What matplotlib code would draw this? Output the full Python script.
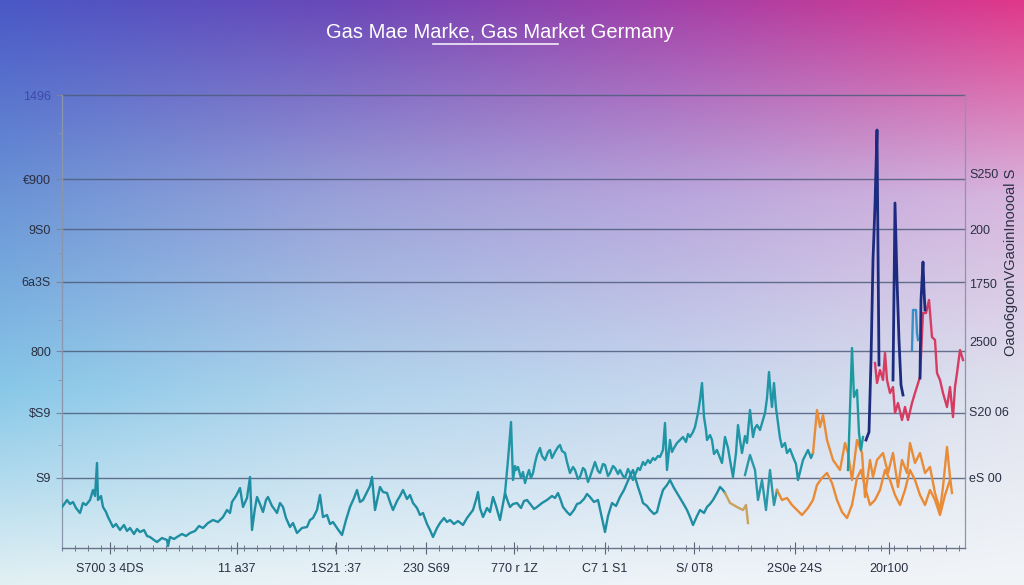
import numpy as np
import matplotlib
matplotlib.use("Agg")
import matplotlib.pyplot as plt
from matplotlib import font_manager

# ---- data (x = trading day index, y = price level) ----
teal_low_x = [0, 3, 5, 8, 11, 14, 18, 21, 24, 28, 31, 33, 35, 36, 39, 41, 44, 46, 49, 51, 54, 58,
              62, 65, 68, 72, 75, 78, 82, 85, 88, 92, 95, 100, 105, 106, 108, 112, 115, 120, 124,
              128, 133, 137, 141, 146, 151, 156, 161, 165, 168, 170, 174, 178, 181, 185, 188, 190,
              193, 195, 198, 201, 204, 206, 210, 213, 215, 218, 221, 224, 228, 231, 235, 240, 245,
              248, 251, 255, 258, 261, 265, 268, 271, 275, 280, 284, 288, 292, 295, 298, 301, 305,
              308, 310, 313, 316, 318, 321, 325, 328, 331, 335, 338, 341, 345, 348, 351, 355, 358,
              361, 365, 368, 371, 375, 378, 382, 385, 388, 392, 396, 401, 405, 408, 411, 414, 416,
              418, 421, 425, 428, 431, 434, 438, 441, 443, 446, 448, 451, 455, 459, 462, 465, 469,
              472, 475, 480, 485, 490, 493, 496, 499, 501, 505, 508, 512, 515, 518, 522, 525, 528,
              532, 536, 540, 543, 546, 550, 554, 558, 562, 565, 568, 571, 574, 576, 579, 581, 585,
              588, 592, 595, 598, 601, 605, 608, 612, 615, 618, 621, 625, 628, 631, 635, 638, 642,
              645, 648, 651, 655, 658, 661, 663]
teal_low_y = [41, 45, 48, 44, 46, 40, 35, 45, 43, 48, 58, 52, 85, 48, 52, 41, 36, 31, 25, 21, 24, 18,
              23, 17, 20, 14, 19, 16, 18, 12, 11, 8, 6, 10, 8, 2, 11, 9, 11, 14, 12,
              15, 17, 22, 20, 25, 28, 26, 31, 38, 35, 46, 52, 60, 41, 50, 71, 18,
              40, 51, 44, 36, 48, 51, 42, 38, 35, 45, 41, 30, 21, 25, 15, 20, 21,
              28, 30, 38, 53, 31, 33, 24, 26, 20, 13, 28, 41, 50, 58, 46, 48, 56,
              62, 71, 38, 52, 61, 56, 55, 46, 38, 47, 52, 58, 49, 53, 45, 40, 33,
              35, 24, 18, 11, 20, 25, 30, 26, 28, 24, 27, 23, 30, 34, 38, 48, 56,
              40, 31, 40, 36, 51, 42, 28, 44, 55, 46, 41, 44, 45, 40, 47, 48, 43,
              39, 41, 45, 48, 52, 50, 55, 47, 41, 36, 33, 38, 44, 45, 49, 54, 51,
              46, 48, 30, 16, 32, 45, 42, 51, 58, 65, 72, 78, 68, 61, 52, 45, 42,
              38, 34, 36, 48, 58, 63, 68, 60, 55, 50, 45, 38, 31, 23, 32, 38, 35,
              41, 44, 48, 55, 61, 58, 55]

tan_low_x = [663, 668, 675, 681, 684, 686]
tan_low_y = [55, 45, 41, 38, 43, 25]

teal_up_x = [443, 446, 449, 451, 453, 454, 456, 459, 461, 463, 465, 467, 469, 471, 473, 475, 478,
             480, 483, 486, 488, 490, 493, 496, 498, 500, 503, 505, 508, 511, 513, 516, 518, 521,
             523, 526, 528, 531, 533, 536, 538, 541, 543, 546, 548, 551, 553, 556, 558, 561, 563,
             566, 568, 571, 573, 576, 578, 581, 583, 586, 588, 591, 593, 596, 598, 601, 603, 605,
             608, 610, 612, 615, 618, 621, 624, 626, 628, 631, 633, 636, 638, 640, 642, 644, 645,
             648, 650, 652, 655, 658, 660, 663, 666, 668, 671, 674, 676, 678, 680, 683, 685, 688,
             691, 693, 695, 698, 701, 703, 705, 707, 709, 710, 712, 714, 716, 718, 720, 723, 725,
             728, 731, 734, 736, 739, 741, 744, 746, 749, 751]
teal_up_y = [55, 88, 126, 68, 82, 78, 81, 70, 76, 65, 72, 78, 70, 75, 85, 93, 100,
             92, 88, 96, 98, 90, 96, 101, 103, 97, 95, 86, 75, 81, 78, 69, 71, 80,
             78, 66, 71, 80, 86, 77, 75, 84, 83, 72, 75, 82, 80, 74, 78, 72, 70,
             79, 75, 68, 73, 80, 78, 86, 83, 88, 85, 90, 88, 92, 91, 98, 125, 78,
             108, 96, 100, 105, 108, 111, 106, 114, 111, 116, 121, 135, 148, 165, 131, 118, 108,
             113, 108, 94, 98, 90, 85, 111, 100, 88, 71, 95, 123, 108, 95, 112, 105, 138,
             111, 120, 123, 118, 128, 135, 150, 176, 150, 141, 165, 140, 125, 110, 101, 105, 95,
             99, 91, 84, 68, 80, 88, 94, 98, 90, 95]

orange_up_x = [751, 755, 758, 761, 765, 771, 778, 783, 786, 790, 795, 800, 803, 808, 811, 815,
               821, 826, 831, 836, 840, 845, 848, 853, 858, 863, 868, 873, 878, 881, 885, 888, 890]
orange_up_y = [95, 138, 121, 133, 108, 88, 78, 105, 95, 68, 108, 95, 51, 88, 71, 88,
               95, 75, 95, 61, 88, 75, 105, 85, 95, 75, 81, 55, 38, 61, 101, 71, 55]

teal_mid_x = [683, 688, 693, 696, 700, 704, 708, 712, 715]
teal_mid_y = [73, 93, 78, 48, 68, 38, 78, 43, 58]

orange_low_x = [715, 720, 725, 730, 735, 740, 746, 751, 755, 760, 765, 770, 775, 780, 785, 790,
                795, 799, 803, 808, 813, 818, 823, 828, 833, 838, 843, 848, 853, 858, 863, 868,
                873, 878, 883, 888]
orange_low_y = [58, 48, 50, 43, 38, 33, 40, 48, 63, 70, 75, 65, 48, 36, 30, 43,
                70, 78, 61, 43, 48, 58, 78, 68, 53, 43, 58, 78, 68, 53, 43, 58,
                48, 33, 53, 68]

teal_spike_x = [786, 790, 792, 795, 797, 799, 801]
teal_spike_y = [78, 200, 151, 158, 115, 98, 111]

# navy spikes, separated by gaps
navy_x = [804, 807, 809, 811, 813, 815, 816, 817, np.nan,
          831, 833, 835, 837, 839, 841, np.nan,
          858, 859, 861, 862, 863]
navy_y = [108, 116, 188, 288, 343, 418, 298, 183, np.nan,
          168, 345, 268, 208, 163, 153, np.nan,
          170, 248, 286, 258, 238]

blue_x = [850, 851, 854, 855, 856]
blue_y = [198, 238, 238, 215, 208]

red_x = [813, 815, 818, 821, 823, 825, 828, 831, 833, 836, 840, 843, 846, 850, 853, 858,
         861, 864, 867, 870, 873, 875, 878, 881, 885, 888, 891, 893, 895, 898, 901]
red_y = [185, 165, 178, 168, 195, 168, 155, 161, 135, 145, 128, 141, 128, 145, 155, 171,
         235, 235, 248, 211, 208, 175, 168, 155, 141, 161, 131, 161, 175, 198, 188]

ytick_pos = [453, 369, 319, 266, 197, 135, 70]
ytick_lbl = ["1496", "€900", "9S0", "6a3S", "800", "$S9", "S9"]
yminor_pos = [415, 343, 295, 228, 168, 103]
ytick_r_pos = [375, 319, 264, 207, 137, 70]
ytick_r_lbl = ["S250", "200", "1750", "2500", "S20 06", "eS 00"]
xtick_pos = [48, 175, 274, 364, 452, 543, 632, 733, 827]
xtick_lbl = ["S700 3 4DS", "11 a37", "1S21 :37", "230 S69", "770 r 1Z",
             "C7 1 S1", "S/ 0T8", "2S0e 24S", "20r100"]

title = "Gas Mae Marke, Gas Market Germany"
right_label = "Oaoo6goonVGaoinInoooal S"

installed = {f.name for f in font_manager.fontManager.ttflist}
narrow_name = next((n for n in ["Liberation Sans Narrow", "Liberation Sans"] if n in installed),
                   "DejaVu Sans")
narrow = [narrow_name, "DejaVu Sans"]


def gradient(ctrl, h, w):
    ctrl = np.array([[matplotlib.colors.to_rgb(c) for c in row] for row in ctrl])
    r, c = ctrl.shape[:2]
    xs = np.linspace(0, 1, w)
    ys = np.linspace(0, 1, h)
    tmp = np.zeros((r, w, 3))
    for i in range(r):
        for k in range(3):
            tmp[i, :, k] = np.interp(xs, np.linspace(0, 1, c), ctrl[i, :, k])
    img = np.zeros((h, w, 3))
    for j in range(w):
        for k in range(3):
            img[:, j, k] = np.interp(ys, np.linspace(0, 1, r), tmp[:, j, k])
    return img


fig = plt.figure(figsize=(10.24, 5.85), dpi=100)

bg = fig.add_axes([0, 0, 1, 1], zorder=-1)
bg.imshow(gradient([["#4a58c6", "#6a48b8", "#a440a8", "#e0388a"],
                    ["#6a94d6", "#9aa0d8", "#b9a6dc", "#d8b6de"],
                    ["#88c8e8", "#b0d4ec", "#c6d8ee", "#e0e2ee"],
                    ["#e2f0f4", "#eaf3f7", "#eef4f8", "#f2f5f8"]], 120, 200),
          aspect="auto", extent=[0, 1, 0, 1], interpolation="bicubic")
bg.axis("off")

ax = fig.add_axes([62 / 1024, 37 / 585, 903 / 1024, 453 / 585])
ax.set_facecolor("none")
ax.set_xlim(0, 903)
ax.set_ylim(0, 453)

for y in ytick_pos:
    ax.axhline(y, color="#4e5d7c", lw=1.0, alpha=0.85, zorder=1, clip_on=False)

lw = 1.7
ax.plot(teal_low_x, teal_low_y, color="#1f8ea2", lw=lw, zorder=3)
ax.plot(tan_low_x, tan_low_y, color="#c9a25c", lw=lw, zorder=3)
ax.plot(teal_up_x, teal_up_y, color="#2095a5", lw=lw, zorder=3)
ax.plot(teal_mid_x, teal_mid_y, color="#2a98a8", lw=lw, zorder=3)
ax.plot(orange_low_x, orange_low_y, color="#ea8a34", lw=lw, zorder=3)
ax.plot(orange_up_x, orange_up_y, color="#e88c38", lw=lw, zorder=3)
ax.plot(teal_spike_x, teal_spike_y, color="#1c9a9e", lw=lw, zorder=3)
ax.plot(red_x, red_y, color="#d63c62", lw=lw, zorder=4)
ax.plot(navy_x, navy_y, color="#1d2b7e", lw=2.0, zorder=5)
ax.plot(blue_x, blue_y, color="#3a8ec6", lw=lw, zorder=5)

ax.spines["top"].set_visible(False)
for s in ["left", "right"]:
    ax.spines[s].set_color("#8a96ac")
    ax.spines[s].set_linewidth(0.9)
ax.spines["bottom"].set_color("#6a7488")
ax.spines["bottom"].set_linewidth(1.0)

ax.set_yticks(ytick_pos)
ax.set_yticklabels(ytick_lbl, family=narrow, fontsize=9, color="#2a2f42")
ax.get_yticklabels()[0].set_color("#3c4aa8")
ax.set_yticks(yminor_pos, minor=True)
ax.tick_params(axis="y", which="major", length=4, color="#7a849a", pad=4)
ax.tick_params(axis="y", which="minor", length=3, color="#8a94aa")

ax.set_xticks(xtick_pos)
ax.set_xticklabels(xtick_lbl, family=narrow, fontsize=9, color="#2a2f42")
ax.set_xticks(np.arange(0, 906, 13), minor=True)
ax.tick_params(axis="x", which="major", direction="inout", length=9, color="#5a6478", pad=6)
ax.tick_params(axis="x", which="minor", direction="inout", length=5, color="#5a6478")

axr = ax.twinx()
axr.set_ylim(0, 453)
axr.set_yticks(ytick_r_pos)
axr.set_yticklabels(ytick_r_lbl, family=narrow, fontsize=9, color="#2a2f42")
axr.tick_params(axis="y", length=0, pad=3)
for s in axr.spines.values():
    s.set_visible(False)

fig.text(0.987, 0.552, right_label, rotation=90, ha="center", va="center",
         family=narrow, fontsize=10.5, color="#2a2f42")

fig.text(0.488, 0.945, title, ha="center", va="center", color="white",
         fontsize=14.5, family=["Liberation Sans", "DejaVu Sans"])
fig.add_artist(plt.Line2D([433 / 1024, 558 / 1024], [1 - 44 / 585, 1 - 44 / 585],
                          color="white", lw=1.2, alpha=0.9))

fig.savefig("out.png", dpi=100)
